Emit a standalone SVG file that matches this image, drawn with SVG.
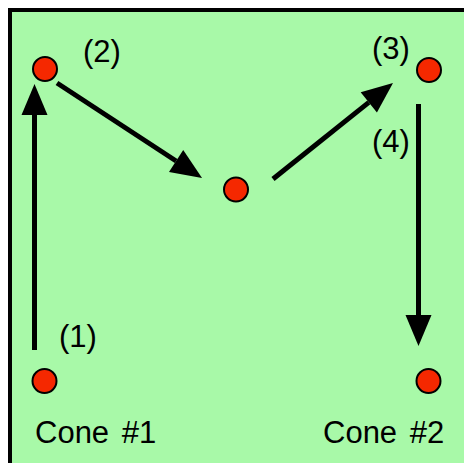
<svg xmlns="http://www.w3.org/2000/svg" width="464" height="463" viewBox="0 0 464 463">
<style>
.pt{fill:#f52800;stroke:#000;stroke-width:2}
.lbl{font-family:"Liberation Sans",Arial,sans-serif;font-size:31px;fill:#000}
.cone{word-spacing:4px}
.conn{stroke:#000;stroke-width:5;fill:none;marker-end:url(#ah)}
</style>
<defs>
<marker id="ah" markerUnits="userSpaceOnUse" markerWidth="32" markerHeight="28" refX="0" refY="13" orient="auto" overflow="visible">
<path d="M0,0 L31,13 L0,26 Z" fill="#000"/>
</marker>
</defs>
<rect x="10" y="10" width="470" height="470" fill="#a8f9a8" stroke="#000" stroke-width="4"/>
<g id="connectors">
<line class="conn" x1="34.5" y1="350" x2="34.5" y2="115"/>
<line class="conn" x1="57" y1="83" x2="176.1" y2="161"/>
<line class="conn" x1="273" y1="179" x2="368.8" y2="102.4"/>
<line class="conn" x1="418.5" y1="104" x2="418.5" y2="315"/>
</g>
<g id="cone1">
<circle class="pt" cx="44.5" cy="381" r="12"/>
<text class="lbl cone" x="35" y="443">Cone #1</text>
<text class="lbl" x="59" y="347">(1)</text>
</g>
<g id="point2">
<circle class="pt" cx="45" cy="69" r="12"/>
<text class="lbl" x="83" y="62">(2)</text>
</g>
<g id="mid">
<circle class="pt" cx="236" cy="189.5" r="12"/>
</g>
<g id="point3">
<circle class="pt" cx="429" cy="70" r="12"/>
<text class="lbl" x="372" y="59">(3)</text>
<text class="lbl" x="372" y="152">(4)</text>
</g>
<g id="cone2">
<circle class="pt" cx="428.5" cy="381" r="12"/>
<text class="lbl cone" x="323" y="443">Cone #2</text>
</g>
</svg>
